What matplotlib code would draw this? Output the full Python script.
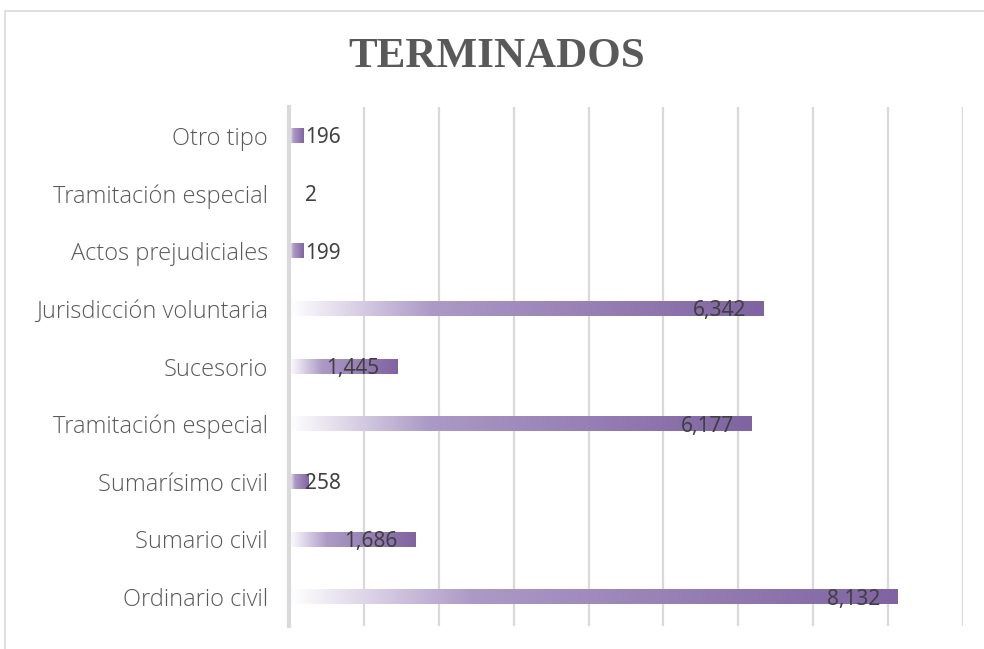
import numpy as np
import matplotlib.pyplot as plt
from matplotlib.colors import LinearSegmentedColormap
from matplotlib.patches import Rectangle

# Datos
categorias = ["Ordinario civil", "Sumario civil", "Sumarísimo civil",
              "Tramitación especial", "Sucesorio", "Jurisdicción voluntaria",
              "Actos prejudiciales", "Tramitación especial", "Otro tipo"]
valores = [8132, 1686, 258, 6177, 1445, 6342, 199, 2, 196]

# Parametros
W, H = 984, 649
dpi = 100
bar_h = 0.245
purpura = "#8064A2"
gris_grid = "#D9D9D9"
cmap = LinearSegmentedColormap.from_list(
    "grad", [(0.0, "#FFFFFF"), (0.3, "#AC9AC6"), (1.0, purpura)])

fig = plt.figure(figsize=(W / dpi, H / dpi), dpi=dpi)
ax = fig.add_axes([289 / W, 1 - 626 / H, (963 - 289) / W, (626 - 107) / H])

# borde del grafico
fig.patches.append(Rectangle((5 / W, -0.1), 1.2, 1 - 11 / H + 0.1,
                             transform=fig.transFigure, fill=False,
                             edgecolor=gris_grid, linewidth=1.2))

grad = np.linspace(0, 1, 256).reshape(1, -1)
for i, v in enumerate(valores):
    ax.imshow(grad, cmap=cmap, aspect="auto", interpolation="bilinear",
              extent=[0, v, i - bar_h / 2, i + bar_h / 2], zorder=2)
    etiqueta = f"{v:,}"
    if v > 700:
        ax.annotate(etiqueta, xy=(v, i), xytext=(-12.5, -1.5),
                    textcoords="offset points", ha="right", va="center",
                    fontsize=15, color="#404040", family="Noto Sans", zorder=3)
    else:
        ax.annotate(etiqueta, xy=(0, i), xytext=(11.5, -1.5),
                    textcoords="offset points", ha="left", va="center",
                    fontsize=15, color="#404040", family="Noto Sans", zorder=3)

ax.set_xlim(0, 9000)
ax.set_ylim(-0.5, len(valores) - 0.5)
ax.set_xticks(np.arange(0, 9001, 1000))
ax.set_xticklabels([])
ax.set_yticks(range(len(categorias)))
ax.set_yticklabels(categorias, fontsize=17, color="#595959",
                   family="Open Sans", fontweight="light")
ax.tick_params(axis="both", length=0)
ax.tick_params(axis="y", pad=15)
ax.grid(axis="x", color=gris_grid, linewidth=1.6, zorder=0)
ax.set_axisbelow(True)
for s in ["top", "right", "bottom"]:
    ax.spines[s].set_visible(False)
ax.spines["left"].set_color(gris_grid)
ax.spines["left"].set_linewidth(3)

fig.text(497 / W, 1 - 67 / H, "TERMINADOS", ha="center", va="baseline",
         fontsize=31, fontweight="bold", family="Liberation Serif",
         color="#595959")

fig.savefig("out.png", dpi=dpi)
